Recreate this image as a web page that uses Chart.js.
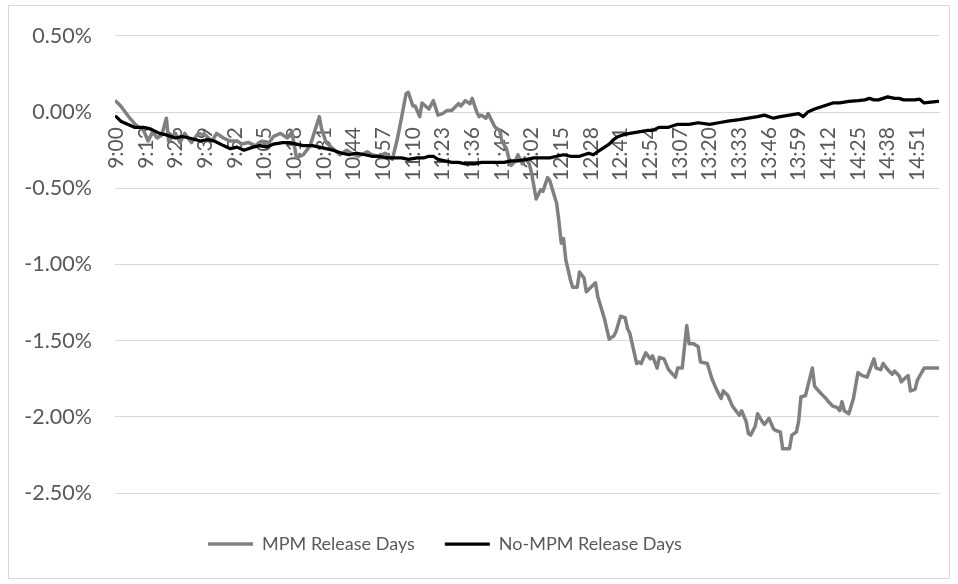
<!DOCTYPE html>
<html>
<head>
<meta charset="utf-8">
<script src="https://cdn.jsdelivr.net/npm/chart.js@4.4.1/dist/chart.umd.min.js"></script>
<style>
  html, body { margin: 0; padding: 0; background: #fff; }
</style>
</head>
<body>
<canvas id="chart" width="958" height="584"></canvas>
<script>
// minutes after 9:00 where the x axis shows a label
const tickMinutes = [0, 13, 26, 39, 52, 65, 78, 91, 104, 117, 130, 143, 156, 169,
  182, 195, 208, 221, 234, 247, 260, 273, 286, 299, 312, 325, 338, 351]
const tickLabels = ['9:00', '9:13', '9:26', '9:39', '9:52', '10:05', '10:18', '10:31', '10:44', '10:57',
  '11:10', '11:23', '11:36', '11:49', '12:02', '12:15', '12:28', '12:41', '12:54', '13:07',
  '13:20', '13:33', '13:46', '13:59', '14:12', '14:25', '14:38', '14:51']

// MPM Release Days, % return
const mpmMinutes = [
  0, 2, 6, 9, 12, 14, 16, 18, 20, 22,
  23, 26, 28, 30, 33, 36, 39, 42, 44, 47,
  50, 53, 55, 58, 61, 64, 66, 69, 72, 75,
  77, 79, 82, 85, 89, 90, 92, 95, 98, 101,
  103, 106, 110, 112, 115, 118, 121, 123, 125, 126,
  127, 128, 130, 131, 133, 134, 137, 139, 141, 143,
  145, 147, 149, 150, 151, 153, 155, 156, 158, 159,
  160, 162, 163, 165, 166, 168, 169, 171, 172, 173,
  175, 176, 178, 179, 181, 182, 184, 186, 187, 189,
  190, 193, 194, 195, 196, 197, 199, 200, 202, 203,
  205, 206, 208, 210, 211, 214, 216, 218, 219, 221,
  223, 224, 225, 227, 228, 229, 230, 232, 234, 235,
  237, 238, 240, 242, 245, 246, 248, 249, 250, 251,
  253, 255, 256, 259, 261, 263, 265, 266, 268, 270,
  273, 274, 276, 277, 278, 280, 281, 283, 284, 286,
  288, 289, 291, 292, 295, 296, 298, 299, 300, 302,
  305, 306, 309, 311, 312, 314, 316, 317, 318, 319,
  321, 323, 325, 327, 329, 330, 332, 333, 335, 336,
  338, 340, 341, 343, 344, 346, 347, 348, 350, 351,
  354, 360
]
const mpmValues = [
  0.07, 0.04, -0.04, -0.09, -0.12, -0.19, -0.13, -0.17, -0.15, -0.04,
  -0.19, -0.14, -0.20, -0.14, -0.20, -0.14, -0.15, -0.19, -0.14, -0.17,
  -0.19, -0.19, -0.21, -0.20, -0.22, -0.19, -0.22, -0.16, -0.14, -0.17,
  -0.13, -0.30, -0.28, -0.22, -0.03, -0.11, -0.20, -0.24, -0.28, -0.25,
  -0.27, -0.29, -0.26, -0.28, -0.29, -0.27, -0.31, -0.19, -0.04, 0.04,
  0.12, 0.13, 0.04, 0.04, -0.03, 0.06, 0.02, 0.075, -0.02, -0.01,
  0.01, 0.01, 0.04, 0.055, 0.04, 0.075, 0.055, 0.09, 0.00, -0.03,
  -0.02, -0.04, -0.01, -0.07, -0.10, -0.12, -0.19, -0.24, -0.30, -0.35,
  -0.32, -0.28, -0.34, -0.30, -0.34, -0.40, -0.57, -0.51, -0.52, -0.43,
  -0.45, -0.60, -0.72, -0.86, -0.83, -0.97, -1.10, -1.15, -1.15, -1.05,
  -1.09, -1.18, -1.15, -1.12, -1.21, -1.36, -1.49, -1.47, -1.44, -1.34,
  -1.35, -1.42, -1.45, -1.58, -1.65, -1.64, -1.65, -1.58, -1.62, -1.60,
  -1.68, -1.61, -1.62, -1.69, -1.74, -1.68, -1.68, -1.54, -1.40, -1.52,
  -1.52, -1.54, -1.64, -1.65, -1.75, -1.82, -1.88, -1.83, -1.86, -1.93,
  -1.99, -1.96, -2.03, -2.11, -2.12, -2.06, -1.98, -2.03, -2.05, -2.01,
  -2.08, -2.09, -2.10, -2.21, -2.21, -2.12, -2.10, -2.03, -1.87, -1.86,
  -1.68, -1.80, -1.85, -1.88, -1.90, -1.93, -1.94, -1.96, -1.90, -1.96,
  -1.98, -1.88, -1.71, -1.73, -1.74, -1.70, -1.62, -1.68, -1.69, -1.65,
  -1.69, -1.72, -1.70, -1.73, -1.77, -1.74, -1.73, -1.83, -1.82, -1.76,
  -1.68, -1.68
]

// No-MPM Release Days, % return
const noMpmMinutes = [
  0, 2, 5, 8, 12, 15, 19, 22, 26, 29,
  32, 37, 40, 43, 47, 50, 53, 56, 60, 63,
  66, 69, 73, 76, 79, 82, 86, 89, 92, 95,
  99, 102, 105, 109, 112, 115, 119, 122, 125, 128,
  132, 135, 137, 139, 141, 144, 147, 150, 153, 157,
  160, 163, 167, 170, 173, 176, 180, 183, 186, 190,
  193, 196, 199, 203, 205, 207, 209, 211, 213, 216,
  218, 220, 222, 225, 229, 233, 235, 238, 242, 246,
  251, 255, 260, 264, 268, 273, 277, 281, 284, 288,
  291, 295, 299, 301, 303, 306, 310, 314, 317, 321,
  325, 328, 330, 332, 334, 336, 338, 341, 343, 345,
  347, 350, 352, 354, 357, 360
]
const noMpmValues = [
  -0.03, -0.06, -0.08, -0.10, -0.10, -0.11, -0.14, -0.15, -0.17, -0.16,
  -0.17, -0.19, -0.18, -0.19, -0.22, -0.24, -0.23, -0.25, -0.23, -0.22,
  -0.23, -0.21, -0.20, -0.20, -0.21, -0.22, -0.22, -0.23, -0.24, -0.25,
  -0.27, -0.28, -0.27, -0.28, -0.29, -0.29, -0.30, -0.30, -0.30, -0.31,
  -0.30, -0.30, -0.29, -0.29, -0.31, -0.32, -0.33, -0.33, -0.34, -0.34,
  -0.33, -0.33, -0.33, -0.33, -0.32, -0.32, -0.31, -0.30, -0.30, -0.30,
  -0.29, -0.28, -0.29, -0.29, -0.28, -0.27, -0.28, -0.26, -0.24, -0.21,
  -0.18, -0.16, -0.15, -0.14, -0.13, -0.12, -0.12, -0.10, -0.10, -0.08,
  -0.08, -0.07, -0.08, -0.07, -0.06, -0.05, -0.04, -0.03, -0.02, -0.04,
  -0.03, -0.02, -0.01, -0.03, 0.00, 0.02, 0.04, 0.06, 0.06, 0.07,
  0.075, 0.08, 0.09, 0.08, 0.08, 0.09, 0.10, 0.09, 0.09, 0.08,
  0.08, 0.08, 0.085, 0.06, 0.065, 0.07
]

const textColor = '#595959'
const gridColor = '#d9d9d9'
Chart.defaults.font.family = 'Lato'

// light frame round the whole chart, like the Excel chart border
const chartBorder = {
  id: 'chartBorder',
  afterDraw(chart) {
    const ctx = chart.ctx
    ctx.save()
    ctx.strokeStyle = gridColor
    ctx.lineWidth = 1
    ctx.strokeRect(8.5, 5.5, 941, 573)
    ctx.restore()
  }
}

// move the legend row to where it sits in the original
const legendPlacement = {
  id: 'legendPlacement',
  afterLayout(chart) {
    const legend = chart.legend
    const labels = legend.options.labels
    const dx = 445 - (legend.left + legend.right) / 2
    const dy = 544 - (legend.top + labels.padding + labels.font.size / 2)
    legend.left += dx
    legend.right += dx
    legend.top += dy
    legend.bottom += dy
  }
}

new Chart(document.getElementById('chart'), {
  type: 'line',
  data: {
    datasets: [
      {
        label: 'MPM Release Days',
        data: mpmMinutes.map((m, i) => ({ x: m, y: mpmValues[i] })),
        borderColor: '#808080',
        backgroundColor: '#808080',
        borderWidth: 3.5,
        pointRadius: 0,
        tension: 0,
        borderJoinStyle: 'round',
        borderCapStyle: 'round',
        order: 1
      },
      {
        label: 'No-MPM Release Days',
        data: noMpmMinutes.map((m, i) => ({ x: m, y: noMpmValues[i] })),
        borderColor: '#000000',
        backgroundColor: '#000000',
        borderWidth: 3.25,
        pointRadius: 0,
        tension: 0,
        borderJoinStyle: 'round',
        borderCapStyle: 'round',
        order: 0
      }
    ]
  },
  options: {
    responsive: false,
    animation: false,
    events: [],
    layout: {
      padding: { left: 0, top: 34, right: 18, bottom: 33 }
    },
    plugins: {
      legend: {
        position: 'bottom',
        labels: {
          usePointStyle: true,
          pointStyle: 'line',
          pointStyleWidth: 45,
          padding: 30,
          color: textColor,
          font: { size: 18 },
          sort: (a, b) => a.datasetIndex - b.datasetIndex
        }
      },
      tooltip: { enabled: false }
    },
    scales: {
      x: {
        type: 'linear',
        position: { y: 0 },
        min: -0.5,
        max: 360.5,
        afterBuildTicks: axis => {
          axis.ticks = tickMinutes.map(v => ({ value: v }))
        },
        grid: { display: false, drawTicks: false },
        border: { display: true, color: gridColor },
        ticks: {
          autoSkip: false,
          minRotation: 90,
          maxRotation: 90,
          padding: 15,
          color: textColor,
          font: { size: 21 },
          callback: (value, index) => tickLabels[index]
        }
      },
      y: {
        min: -2.5,
        max: 0.5,
        afterFit: axis => { axis.width = 115 },
        grid: { color: gridColor, drawTicks: false },
        border: { display: false },
        ticks: {
          stepSize: 0.5,
          padding: 23,
          color: textColor,
          font: { size: 21.5 },
          callback: value => value.toFixed(2) + '%'
        }
      }
    }
  },
  plugins: [chartBorder, legendPlacement]
})
</script>
</body>
</html>
